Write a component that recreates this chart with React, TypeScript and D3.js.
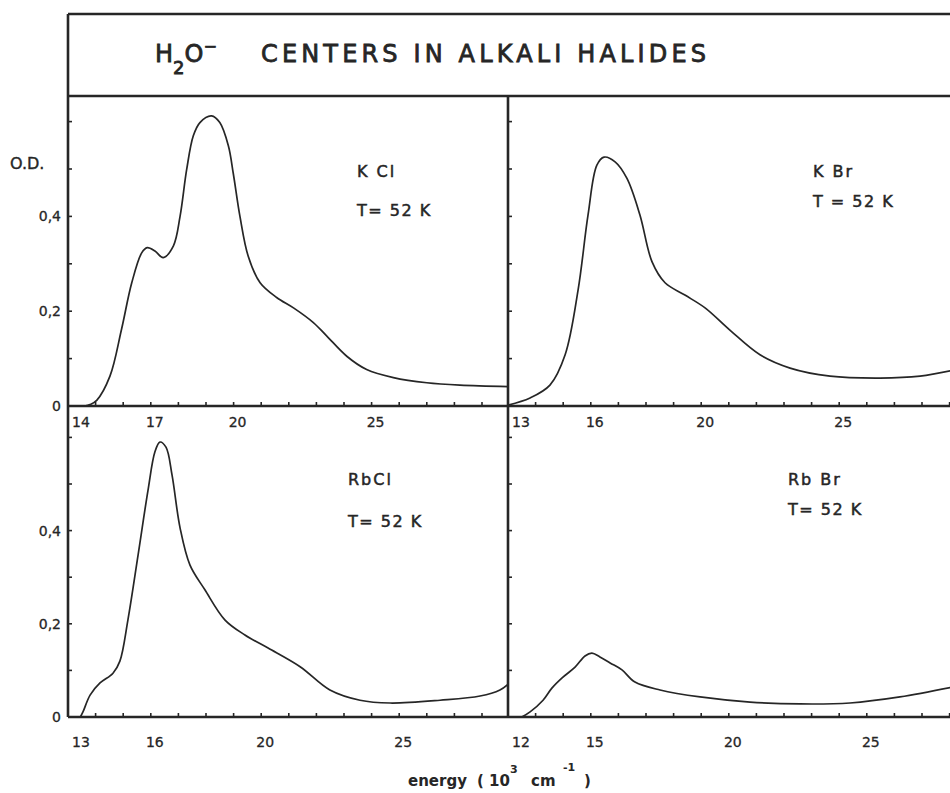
import React from "react";
import * as d3 from "d3";

// energies in 10^3 cm^-1, optical density
const kclEnergy = [14.6, 14.8, 15.04, 15.52, 15.94, 16.31, 16.67, 16.87, 17.15, 17.45, 17.82, 18.06, 18.3, 18.54, 18.78, 19.2, 19.5, 19.81, 19.99, 20.23, 20.53, 20.96, 21.56, 22.17, 22.89, 23.37, 24.1, 24.82, 25.79, 27.0, 28.2, 30.0];
const kclOD = [0, 0.003, 0.012, 0.063, 0.162, 0.26, 0.323, 0.334, 0.327, 0.313, 0.338, 0.4, 0.499, 0.57, 0.598, 0.612, 0.598, 0.549, 0.49, 0.4, 0.316, 0.26, 0.229, 0.207, 0.176, 0.148, 0.105, 0.077, 0.06, 0.049, 0.044, 0.041];

const kbrEnergy = [13.0, 13.8, 14.52, 15.07, 15.54, 15.9, 16.22, 16.48, 16.88, 17.31, 17.78, 18.22, 18.69, 19.41, 20.14, 21.04, 22.13, 23.22, 24.67, 26.48, 27.93, 29.1];
const kbrOD = [0.002, 0.017, 0.044, 0.108, 0.245, 0.403, 0.508, 0.525, 0.515, 0.48, 0.403, 0.304, 0.26, 0.234, 0.207, 0.16, 0.108, 0.08, 0.063, 0.059, 0.063, 0.075];

const rbclEnergy = [13.45, 13.55, 13.8, 14.16, 14.63, 14.88, 15.17, 15.54, 15.9, 16.15, 16.33, 16.55, 16.77, 17.06, 17.42, 17.96, 18.69, 19.41, 20.25, 21.41, 22.49, 23.58, 24.67, 26.48, 27.93, 28.65, 29.0];
const rbclOD = [0, 0.012, 0.047, 0.073, 0.094, 0.12, 0.208, 0.348, 0.487, 0.569, 0.59, 0.579, 0.519, 0.406, 0.326, 0.273, 0.208, 0.176, 0.148, 0.108, 0.058, 0.036, 0.03, 0.036, 0.045, 0.058, 0.073];

const rbbrEnergy = [12.5, 12.8, 13.27, 13.59, 13.96, 14.43, 14.79, 15.04, 15.33, 15.7, 16.13, 16.6, 17.51, 18.96, 20.77, 22.58, 24.39, 26.2, 28.1];
const rbbrOD = [0, 0.011, 0.036, 0.062, 0.084, 0.107, 0.131, 0.137, 0.129, 0.116, 0.101, 0.075, 0.058, 0.043, 0.032, 0.028, 0.03, 0.043, 0.064];

const salts = ["K Cl", "K Br", "RbCl", "Rb Br"];
const temps = ["T= 52  K", "T = 52 K", "T= 52  K", "T= 52  K"];
const xStarts = [14, 13, 13, 12];
const xTickLabels = [
  [14, 17, 20, 25],
  [13, 16, 20, 25],
  [13, 16, 20, 25],
  [12, 15, 20, 25],
];
const yTickLabels = [0, 0.2, 0.4];

const W = 950;
const H = 793;
const LEFT = 68;
const MID = 508;
const RIGHT = 953;
const TOP = 14;
const TITLE_B = 96;
const SPLIT = 406;
const BOTTOM = 717;
const UNIT = 27.6; // px per 10^3 cm^-1

const ink = "#262626";
const font = "'DejaVu Sans', sans-serif";

const fmtOD = (v: number) => (v === 0 ? "0" : String(v).replace(".", ","));

const Panel = ({ idx, energy, od }: { idx: number; energy: number[]; od: number[] }) => {
  const isRight = idx % 2 === 1;
  const isBottom = idx > 1;
  const x0 = isRight ? MID : LEFT;
  const x1 = isRight ? RIGHT : MID;
  const yBase = isBottom ? BOTTOM : SPLIT;
  const yTopPx = isBottom ? SPLIT : TITLE_B;
  const perTenth = isBottom ? 46.6 : 47.4;

  const x = d3.scaleLinear().domain([xStarts[idx], xStarts[idx] + (x1 - x0) / UNIT]).range([x0, x1]);
  const y = d3.scaleLinear().domain([0, 0.6]).range([yBase, yBase - 6 * perTenth]);

  const pts = energy.map((e, i) => [e, od[i]] as [number, number]);
  const line = d3
    .line<[number, number]>()
    .x((d) => x(d[0]))
    .y((d) => y(d[1]))
    .curve(d3.curveCatmullRom.alpha(0.5));

  const xTicks = d3.range(Math.ceil(xStarts[idx]) + 1, Math.floor(x.domain()[1]) + 1);
  const yTicks = d3.range(1, 7).map((k) => k / 10);
  const clipId = `clip${idx}`;

  const labelY = yBase + (isBottom ? 30 : 21);
  const textX = isRight ? (isBottom ? 788 : 813) : isBottom ? 348 : 357;
  const nameY = isBottom ? 485 : 177;
  const tempY = isBottom ? (isRight ? 515 : 527) : isRight ? 207 : 216;

  return (
    <g>
      <clipPath id={clipId}>
        <rect x={x0} y={yTopPx} width={x1 - x0} height={yBase - yTopPx} />
      </clipPath>
      <path d={line(pts) ?? ""} fill="none" stroke={ink} strokeWidth={1.7} clipPath={`url(#${clipId})`} />
      {xTicks.map((t) => (
        <line key={`xt${t}`} x1={x(t)} x2={x(t)} y1={yBase} y2={yBase - 4} stroke={ink} strokeWidth={1.6} />
      ))}
      {yTicks.map((t) => (
        <line key={`yt${t}`} x1={x0} x2={x0 + 4} y1={y(t)} y2={y(t)} stroke={ink} strokeWidth={1.6} />
      ))}
      {xTickLabels[idx].map((t, i) => (
        <text
          key={`xl${t}`}
          x={x(t) + (i === 0 ? 13 : 4)}
          y={labelY}
          textAnchor="middle"
          fontFamily={font}
          fontSize={14}
          fill={ink}
          stroke={ink}
          strokeWidth={0.3}
        >
          {t}
        </text>
      ))}
      {!isRight &&
        yTickLabels.map((t) => (
          <text
            key={`yl${t}`}
            x={61}
            y={y(t)}
            dy="0.36em"
            textAnchor="end"
            fontFamily={font}
            fontSize={14}
            fill={ink}
            stroke={ink}
            strokeWidth={0.3}
          >
            {fmtOD(t)}
          </text>
        ))}
      <g fontFamily={font} fontSize={16} fill={ink} stroke={ink} strokeWidth={0.5}>
        <text x={textX} y={nameY} letterSpacing={2}>
          {salts[idx]}
        </text>
        <text x={textX} y={tempY} letterSpacing={1.5}>
          {temps[idx]}
        </text>
      </g>
    </g>
  );
};

const App = () => {
  const series = [
    [kclEnergy, kclOD],
    [kbrEnergy, kbrOD],
    [rbclEnergy, rbclOD],
    [rbbrEnergy, rbbrOD],
  ];
  return (
    <div style={{ position: "absolute", left: 0, top: 0 }}>
      <svg width={W} height={H} style={{ display: "block", background: "#fff" }}>
        {/* frame */}
        <g stroke={ink} strokeWidth={2.6} fill="none">
          <line x1={LEFT} x2={RIGHT} y1={TOP} y2={TOP} />
          <line x1={LEFT} x2={RIGHT} y1={TITLE_B} y2={TITLE_B} />
          <line x1={LEFT} x2={RIGHT} y1={SPLIT} y2={SPLIT} />
          <line x1={LEFT} x2={RIGHT} y1={BOTTOM} y2={BOTTOM} />
          <line x1={LEFT} x2={LEFT} y1={TOP} y2={BOTTOM} />
          <line x1={MID} x2={MID} y1={TITLE_B} y2={BOTTOM} />
        </g>

        {/* title */}
        <g fontFamily={font} fill={ink} stroke={ink} strokeWidth={0.8}>
          <text x={155} y={62} fontSize={24}>
            H
            <tspan fontSize={18} dy={12}>2</tspan>
            <tspan dy={-12}>O</tspan>
            <tspan fontSize={16} dy={-10}>−</tspan>
          </text>
          <text x={261} y={62} fontSize={24} textLength={445} lengthAdjust="spacing">
            CENTERS IN ALKALI HALIDES
          </text>
        </g>

        <text x={10} y={169} fontFamily={font} fontSize={16} fill={ink} stroke={ink} strokeWidth={0.4}>
          O.D.
        </text>

        {series.map(([e, o], i) => (
          <Panel key={i} idx={i} energy={e} od={o} />
        ))}

        {/* axis title */}
        <text y={786} fontFamily={font} fontSize={15} fontWeight="bold" fill={ink}>
          <tspan x={408}>energy</tspan>
          <tspan x={477}>(</tspan>
          <tspan x={489}>10</tspan>
          <tspan x={510} fontSize={11} dy={-13}>3</tspan>
          <tspan x={531} dy={13}>cm</tspan>
          <tspan x={563} fontSize={11} dy={-15}>-1</tspan>
          <tspan x={584} dy={15}>)</tspan>
        </text>
      </svg>
    </div>
  );
};

export default App;
